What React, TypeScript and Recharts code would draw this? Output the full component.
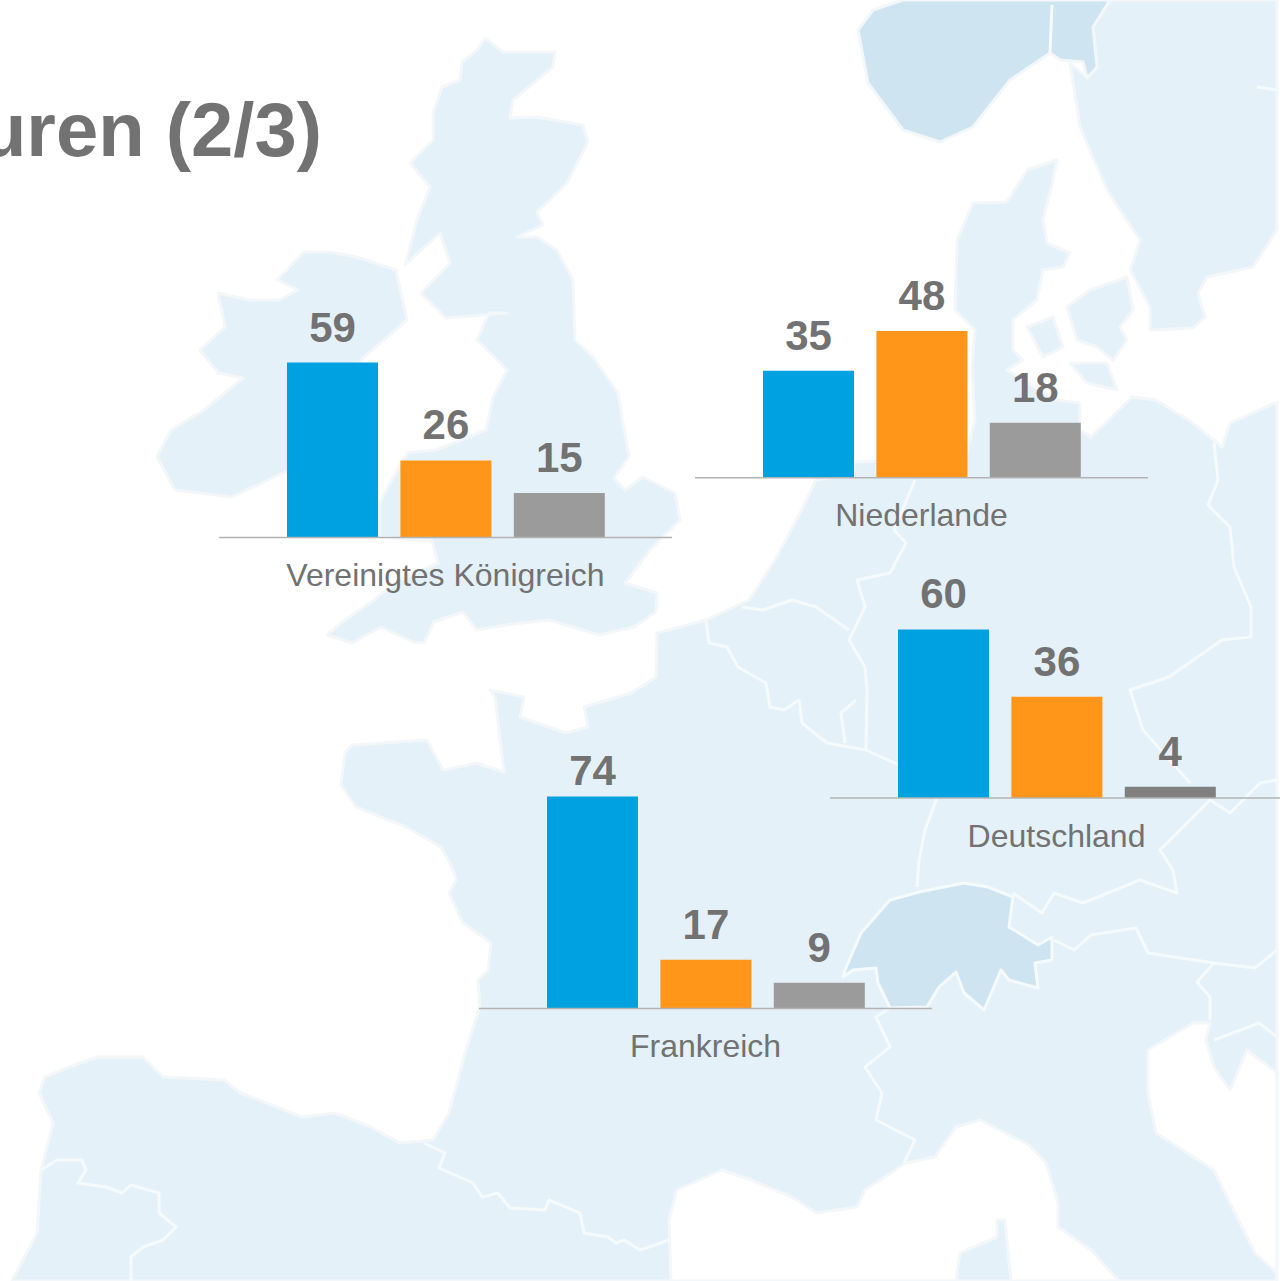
import { Bar, BarChart, LabelList, XAxis, YAxis } from "recharts";

const countries = ["Vereinigtes Königreich", "Niederlande", "Deutschland", "Frankreich"];
const blueValues = [59, 35, 60, 74];
const orangeValues = [26, 48, 36, 17];
const greyValues = [15, 18, 4, 9];

// where each small chart sits on the page, same order as countries
const panelLefts = [219, 695, 830, 479];
const panelBaselines = [538, 478, 798, 1008];
const pxPerUnit = [2.966, 3.057, 2.81, 2.865];
const greyColors = ["#9b9b9b", "#9b9b9b", "#808080", "#9b9b9b"];
// the 74 sits closer to its bar than the other labels do
const blueLabelOffsets = [21, 21, 21, 11];

const LAND = "#e4f1f8";
const LAND_DARK = "#cee4f0";
const COAST = "#f3f7fa";
const BORDER = "#f5fafc";
const TEXT = "#727272";

const PANEL_WIDTH = 453;
const AXIS_HEIGHT = 80;

const continent =
  "12,1281 37,1233 41,1170 53,1123 39,1093 45,1077 69,1067 98,1057 143,1057 163,1077 224,1080 241,1093 302,1117 335,1113 371,1127 400,1143 433,1140 449,1113 465,1053 480,1007 478,980 488,970 491,943 463,923 449,893 456,880 452,867 441,847 406,827 356,807 341,785 345,753 352,745 427,740 443,770 477,763 504,772 495,697 490,690 524,697 520,717 566,733 588,727 584,707 631,693 656,677 657,633 706,620 749,600 775,560 800,513 816,480 830,478 853,462 965,458 975,420 972,367 975,330 955,310 957,240 973,203 1007,202 1027,170 1057,160 1053,180 1043,220 1047,243 1070,253 1063,267 1043,270 1037,300 1013,320 1013,350 1023,360 1007,370 1057,400 1080,403 1080,430 1091,437 1132,397 1156,400 1193,423 1222,447 1230,423 1277,402 1277,1281";
const britain =
  "485,38 503,52 555,52 553,67 513,100 510,118 537,117 583,125 588,142 567,183 537,212 543,225 517,237 537,237 557,250 573,280 575,340 593,357 618,393 629,457 614,478 625,490 643,477 675,493 680,520 650,550 625,583 657,593 656,612 634,627 599,635 549,620 506,625 477,630 463,612 434,622 424,643 413,642 381,627 352,643 327,635 341,623 374,600 399,580 438,563 432,541 379,537 379,503 407,453 436,450 486,430 493,397 507,370 477,340 489,313 507,313 446,318 421,293 450,263 440,233 405,265 417,220 430,187 410,163 433,140 433,113 442,87 460,80 462,62 477,50";
const ireland =
  "357,257 396,270 407,320 364,357 289,470 232,497 175,490 157,457 171,430 204,410 243,378 218,373 200,350 225,327 218,293 250,300 279,300 298,290 277,280 304,252 329,252";
const sweden =
  "1110,0 1277,0 1277,230 1253,267 1207,277 1198,293 1205,317 1193,328 1150,330 1150,307 1130,270 1140,240 1107,190 1080,127 1070,63 1087,78 1097,67 1093,27";
const norway =
  "903,0 1110,0 1093,27 1097,67 1087,78 1083,62 1060,60 1050,53 1010,80 973,127 940,142 903,130 868,83 858,30 873,10";
const funen = "1027,327 1053,317 1063,347 1043,357";
const zealand = "1067,307 1090,290 1127,277 1133,310 1120,327 1127,340 1113,360 1097,347 1077,340";
const lolland = "1070,363 1107,363 1117,390 1087,383";
const switzerland =
  "845,970 861,933 890,900 919,892 964,883 988,887 1013,897 1009,927 1038,945 1052,937 1052,960 1035,963 1038,988 1009,980 1001,970 984,1010 964,993 956,972 939,987 927,1007 890,1008 878,983 876,968 853,970 843,977";
const mediterranean =
  "671,1281 669,1220 677,1190 722,1170 751,1180 792,1197 816,1213 857,1207 865,1190 906,1163 935,1157 956,1127 980,1120 1029,1145 1046,1163 1058,1203 1058,1227 1091,1250 1119,1281";
const corsica = "956,1281 960,1253 997,1237 997,1220 1005,1220 1011,1281";
const adriatic =
  "1148,1050 1193,1023 1210,1023 1206,1040 1214,1067 1230,1090 1247,1050 1277,1073 1277,1273 1255,1253 1230,1203 1214,1170 1156,1133 1148,1093";
const borders = [
  "41,1170 57,1160 82,1160 86,1170 78,1183 106,1187 122,1193 131,1185 159,1193 159,1213 176,1227 163,1240 143,1247 131,1257 131,1281",
  "424,1143 445,1153 439,1168 473,1183 482,1197 498,1193 510,1208 545,1210 549,1200 580,1213 584,1233 608,1237 616,1243 624,1240 640,1250 669,1240",
  "890,1008 876,1017 890,1047 865,1067 882,1093 876,1120 915,1140 904,1163",
  "1013,893 1042,913 1054,893 1083,903 1140,880 1177,893 1173,870 1160,850 1193,817 1210,800 1230,813 1260,783 1277,780",
  "1190,783 1143,730 1130,690 1169,677 1222,640 1251,637 1251,607 1234,567 1230,527 1208,505 1218,480 1214,443",
  "915,480 894,530 906,543 890,573 857,580 865,607 849,640 865,667 867,690 866,750",
  "742,607 763,610 792,600 816,607 849,630",
  "706,620 709,643 727,647 738,667 766,683 770,707 784,710 799,700 802,723 827,743 866,750 910,770 940,790 925,830 919,860 917,887",
  "856,700 841,713 845,743",
  "1054,940 1074,950 1091,935 1136,928 1148,953 1214,963 1255,968 1277,950",
  "1214,963 1197,982 1210,997 1210,1020",
  "1214,1040 1259,1023 1277,1037",
  "1052,5 1050,53",
  "1277,90 1257,87",
];

function MapBackground() {
  const land = [continent, britain, ireland, sweden, funen, zealand, lolland];
  return (
    <svg width={1280} height={1281} style={{ position: "absolute", left: 0, top: 0 }}>
      {land.map((points) => (
        <polygon key={points} points={points} fill={LAND} stroke={COAST} strokeWidth={3} strokeLinejoin="round" />
      ))}
      <polygon points={norway} fill={LAND_DARK} stroke={COAST} strokeWidth={3} strokeLinejoin="round" />
      <polygon points={mediterranean} fill="#fff" stroke={COAST} strokeWidth={3} strokeLinejoin="round" />
      <polygon points={adriatic} fill="#fff" stroke={COAST} strokeWidth={3} strokeLinejoin="round" />
      <polygon points={corsica} fill={LAND} stroke={COAST} strokeWidth={3} strokeLinejoin="round" />
      {borders.map((points) => (
        <polyline key={points} points={points} fill="none" stroke={BORDER} strokeWidth={3} strokeLinejoin="round" />
      ))}
      <polygon points={switzerland} fill={LAND_DARK} stroke={BORDER} strokeWidth={3} strokeLinejoin="round" />
      <text
        x={322}
        y={156}
        textAnchor="end"
        fontFamily="'Liberation Sans', Arial, sans-serif"
        fontWeight="bold"
        fontSize={76}
        fill={TEXT}
      >
        uren (2/3)
      </text>
    </svg>
  );
}

const valueLabel = {
  fill: TEXT,
  fontSize: 42,
  fontWeight: "bold",
  fontFamily: "'Liberation Sans', Arial, sans-serif",
};

function CountryPanel({ index }: { index: number }) {
  const data = [
    {
      name: countries[index],
      blue: blueValues[index],
      orange: orangeValues[index],
      grey: greyValues[index],
    },
  ];
  const plotHeight = pxPerUnit[index] * 100;
  return (
    <div
      style={{
        position: "absolute",
        left: panelLefts[index],
        top: panelBaselines[index] - plotHeight,
      }}
    >
      <BarChart
        width={PANEL_WIDTH}
        height={plotHeight + AXIS_HEIGHT}
        data={data}
        barSize={91}
        barGap={22.4}
        margin={{ top: 0, right: 0, bottom: 0, left: 0 }}
      >
        <YAxis hide domain={[0, 100]} />
        <XAxis
          dataKey="name"
          height={AXIS_HEIGHT}
          interval={0}
          tickLine={false}
          axisLine={{ stroke: "#b3b3b3", strokeWidth: 1.5 }}
          tickMargin={20}
          tick={{ fill: TEXT, fontSize: 32, fontFamily: "'Liberation Sans', Arial, sans-serif" }}
        />
        <Bar dataKey="blue" fill="#00a1e1" isAnimationActive={false}>
          <LabelList dataKey="blue" position="top" offset={blueLabelOffsets[index]} style={valueLabel} />
        </Bar>
        <Bar dataKey="orange" fill="#ff9619" isAnimationActive={false}>
          <LabelList dataKey="orange" position="top" offset={21} style={valueLabel} />
        </Bar>
        <Bar dataKey="grey" fill={greyColors[index]} isAnimationActive={false}>
          <LabelList dataKey="grey" position="top" offset={21} style={valueLabel} />
        </Bar>
      </BarChart>
    </div>
  );
}

export default function App() {
  return (
    <div
      style={{
        position: "absolute",
        left: 0,
        top: 0,
        width: 1280,
        height: 1281,
        overflow: "hidden",
        background: "#fff",
      }}
    >
      <MapBackground />
      {countries.map((country, index) => (
        <CountryPanel key={country} index={index} />
      ))}
    </div>
  );
}
